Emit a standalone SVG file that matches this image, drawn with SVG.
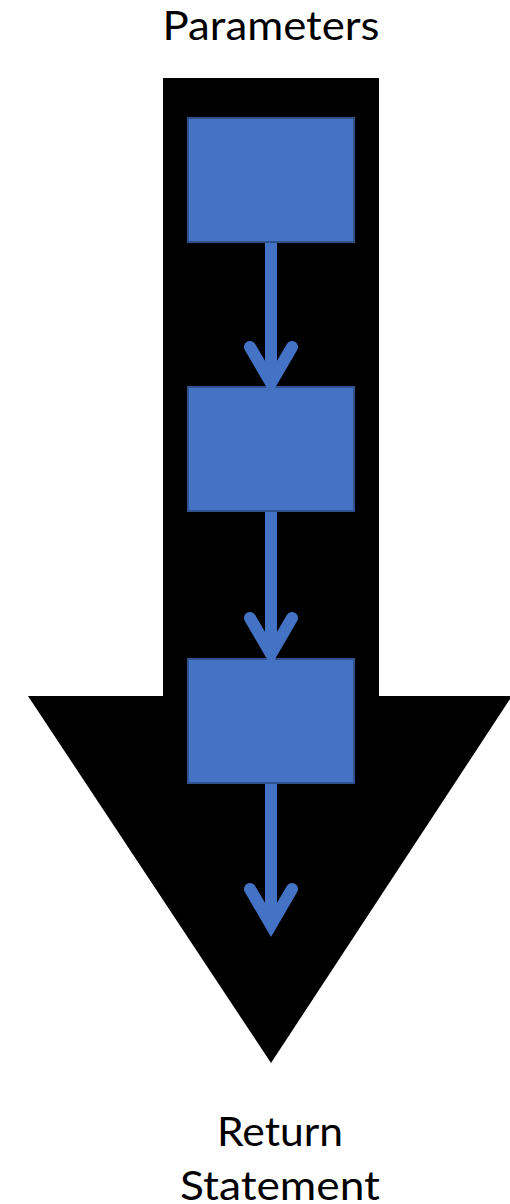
<svg xmlns="http://www.w3.org/2000/svg" width="510" height="1204" viewBox="0 0 510 1204">
  <style>
    .label { font-family: "Lato", "Liberation Sans", sans-serif; font-size: 41px; fill: #000; text-anchor: middle; }
    .step { fill: #4472C4; stroke: #2F528F; stroke-width: 2; }
    .flow { fill: none; stroke: #4472C4; stroke-width: 12; }
    .head { fill: none; stroke: #4472C4; stroke-width: 12; stroke-linecap: round; stroke-linejoin: miter; stroke-miterlimit: 10; }
  </style>
  <rect width="510" height="1204" fill="#fff"/>

  <!-- big downward arrow behind the flow -->
  <polygon id="backdrop" points="163,78 379,78 379,696 512,696 271,1063 28,696 163,696" fill="#000"/>

  <text class="label" x="271" y="40" textLength="217" lengthAdjust="spacingAndGlyphs">Parameters</text>

  <g id="step1"><rect class="step" x="188" y="118" width="166" height="124"/></g>
  <g id="step2"><rect class="step" x="188" y="387" width="166" height="124"/></g>
  <g id="step3"><rect class="step" x="188" y="659" width="166" height="124"/></g>

  <g id="connectors">
    <line class="flow" x1="271" y1="243" x2="271" y2="382"/>
    <polyline class="head" points="250,347 271,383 292,347"/>
    <line class="flow" x1="271" y1="512" x2="271" y2="653"/>
    <polyline class="head" points="250,618 271,654 292,618"/>
    <line class="flow" x1="271" y1="784" x2="271" y2="924"/>
    <polyline class="head" points="250,889 271,925 292,889"/>
  </g>

  <text class="label" x="280" y="1146" textLength="126" lengthAdjust="spacingAndGlyphs">Return</text>
  <text class="label" x="280" y="1200" textLength="200" lengthAdjust="spacingAndGlyphs">Statement</text>
</svg>
